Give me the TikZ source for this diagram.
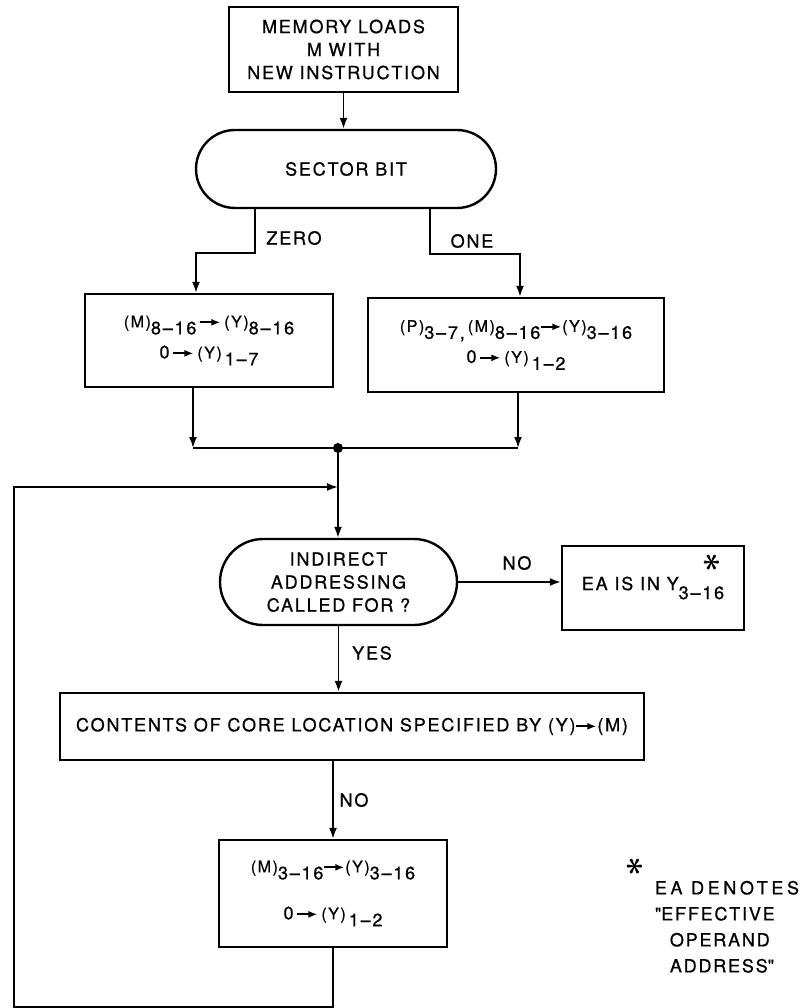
\documentclass[tikz,border=0pt]{standalone}
\usepackage{bm}
\usepackage{fontspec}
\setmainfont{TeX Gyre Heros}[LetterSpace=10,FakeBold=0.8]
\usetikzlibrary{shapes.misc}
\usetikzlibrary{arrows.meta}
\usetikzlibrary{calc}

\newcommand{\rg}[2]{{\fontsize{16}{16}\selectfont(#1)}\raisebox{-7pt}{#2}}
\newcommand{\tto}{\tikz[baseline=-5pt]\draw[-{Latex[length=9pt,width=7pt]},line width=1.8pt] (0pt,0pt) -- (20pt,0pt);}
\newcommand{\staar}{\scalebox{2}{\rotatebox{90}{$\bm{\ast}$}}}

\begin{document}
\begin{tikzpicture}[x=1pt, y=-1pt, line width=1.8pt,
	box/.style={draw, line width=2.4pt, align=center, inner sep=0pt},
	pill/.style={draw, line width=2.4pt, align=center, rounded rectangle, inner sep=0pt},
	arr/.style={-{Latex[length=11pt,width=8pt]}},
	every node/.style={font=\fontsize{18}{23}\selectfont}]
	\useasboundingbox (0,0) rectangle (804,1008);

	\node[box, minimum width=229, minimum height=85] (load) at (343.5,49.5) {MEMORY LOADS\\M WITH\\NEW INSTRUCTION};
	\node[pill, minimum width=300, minimum height=78] (sector) at (346,169) {SECTOR BIT};
	\node[box, minimum width=248, minimum height=93] (zero) at (209,340.5) {\rg{M}{8--16}\,\tto\,\rg{Y}{8--16}\\[8pt]0\,\tto\,\rg{Y}{\,1--7}};
	\node[box, minimum width=296, minimum height=94] (one) at (516,345) {\rg{P}{3--7,}\,\rg{M}{8--16}\tto\rg{Y}{3--16}\\[8pt]0\,\tto\,\rg{Y}{\,1--2}};
	\node[pill, minimum width=237, minimum height=86] (indirect) at (338.5,582) {INDIRECT\\ADDRESSING\\CALLED FOR ?};
	\node[box, minimum width=182, minimum height=84] (ea) at (653,588) {EA IS IN Y\raisebox{-9pt}{3--16}};
	\node (eastar) at (712,563) {\staar};
	\node[box, minimum width=584, minimum height=67] (contents) at (352,726.5) {CONTENTS OF CORE LOCATION SPECIFIED BY (Y)\tto(M)};
	\node[box, minimum width=228, minimum height=107] (final) at (333,893.5) {\rg{M}{3--16}\tto\rg{Y}{3--16}\\[24pt]0\,\tto\,\rg{Y}{\,1--2}};

	\node (zerolbl) at (294,238) {ZERO};
	\node (onelbl) at (472,241) {ONE};
	\node (nolbl) at (517,563) {NO};
	\node (yeslbl) at (372,653) {YES};
	\node (nolbl2) at (354,800) {NO};
	\node (fnstar) at (635,867) {\staar};
	\node[align=left, anchor=north west, inner sep=0pt, font=\fontsize{18}{26}\selectfont] (fnote) at (654,880) {\addfontfeatures{LetterSpace=20}EA DENOTES\\\textquotedbl EFFECTIVE\\\hspace*{15pt}OPERAND\\\hspace*{15pt}ADDRESS\textquotedbl};

	\coordinate (join) at (338,448);
	\coordinate (merge) at (338,487);
	\coordinate (loopb) at (14,1007);

	\draw[arr] (load.south) -- (load.south |- sector.north);
	\draw[arr] ([xshift=-91pt]sector.south) -- ++(0,44) -| ([xshift=-13pt]zero.north);
	\draw[arr] ([xshift=84pt]sector.south) -- ++(0,45) -| ([xshift=4pt]one.north);
	\draw[arr] ([xshift=-16pt]zero.south) -- ([xshift=-16pt]zero.south |- join);
	\draw[arr] ([xshift=2pt]one.south) -- ([xshift=2pt]one.south |- join);
	\draw ([xshift=-16pt]zero.south |- join) -- ([xshift=2pt]one.south |- join);
	\fill (join) circle (5pt);
	\draw[arr] (join) -- (join |- indirect.north);
	\draw[arr] (indirect.east) -- (indirect.east -| ea.west);
	\draw[arr] (indirect.south) -- (indirect.south |- contents.north);
	\draw[arr] (contents.south -| final.north) -- (final.north);
	\draw[arr] (final.south) |- (loopb) |- (merge);
\end{tikzpicture}
\end{document}
